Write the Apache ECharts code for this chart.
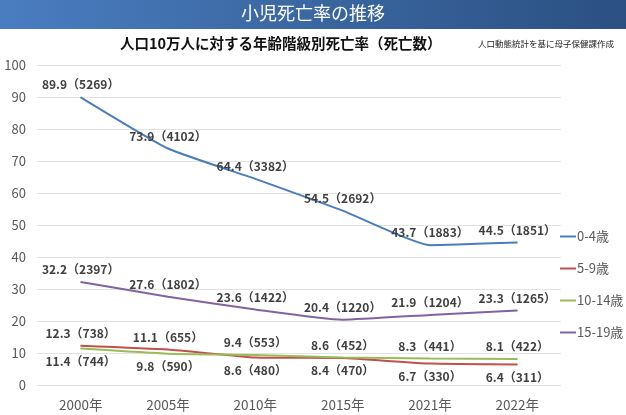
<!DOCTYPE html>
<html>
<head>
<meta charset="utf-8">
<script src="https://cdn.jsdelivr.net/npm/echarts@6/dist/echarts.min.js"></script>
<style>
  html, body { margin: 0; padding: 0; background: #fff; }
  #chart { width: 626px; height: 415px; }
</style>
</head>
<body>
<div id="chart"></div>
<script>
// 年次
const years = ['2000年', '2005年', '2010年', '2015年', '2021年', '2022年'];

// 死亡率（人口10万対）と死亡数
const rate0_4 = [89.9, 73.9, 64.4, 54.5, 43.7, 44.5];
const deaths0_4 = [5269, 4102, 3382, 2692, 1883, 1851];
const rate5_9 = [12.3, 11.1, 8.6, 8.4, 6.7, 6.4];
const deaths5_9 = [738, 655, 480, 470, 330, 311];
const rate10_14 = [11.4, 9.8, 9.4, 8.6, 8.3, 8.1];
const deaths10_14 = [744, 590, 553, 452, 441, 422];
const rate15_19 = [32.2, 27.6, 23.6, 20.4, 21.9, 23.3];
const deaths15_19 = [2397, 1802, 1422, 1220, 1204, 1265];

const yTicks = [0, 100, 10];

const font = '"Noto Sans CJK JP", "Noto Sans", sans-serif';

function makeSeries(name, rates, deaths, color, other) {
  return {
    name: name,
    type: 'line',
    smooth: 0.15,
    symbol: 'circle',
    symbolSize: 1,
    color: color,
    lineStyle: { width: 2, color: color },
    itemStyle: { color: color },
    data: rates.map(function (v, i) {
      let pos = 'top';
      if (other && v < other[i]) pos = 'bottom';
      return { value: v, label: { position: pos } };
    }),
    label: {
      show: true,
      distance: 6,
      fontFamily: font,
      fontSize: 12,
      fontWeight: 'bold',
      color: '#404040',
      formatter: function (p) {
        return rates[p.dataIndex].toFixed(1) + '（' + deaths[p.dataIndex] + '）';
      }
    }
  };
}

var dom = document.getElementById('chart');
var myChart = echarts.init(dom, null, { renderer: 'canvas' });

var option = {
  animation: false,
  textStyle: { fontFamily: font },
  graphic: [
    {
      type: 'rect',
      shape: { x: 0, y: 0, width: 626, height: 29 },
      style: {
        fill: new echarts.graphic.LinearGradient(0, 0, 1, 0, [
          { offset: 0, color: '#4a7dc0' },
          { offset: 1, color: '#2b5082' }
        ])
      }
    },
    {
      type: 'text',
      left: 'center',
      top: 4,
      style: { text: '小児死亡率の推移', fill: '#fff', fontSize: 18, fontFamily: font }
    },
    {
      type: 'text',
      left: 120,
      top: 36,
      style: { text: '人口10万人に対する年齢階級別死亡率（死亡数）', fill: '#111', fontSize: 14.5, fontWeight: 'bold', fontFamily: font }
    },
    {
      type: 'text',
      left: 478,
      top: 40,
      style: { text: '人口動態統計を基に母子保健課作成', fill: '#222', fontSize: 8.5, fontFamily: font }
    }
  ],
  legend: {
    orient: 'vertical',
    left: 555,
    top: 225,
    itemGap: 19,
    itemWidth: 16,
    itemHeight: 2,
    icon: 'rect',
    textStyle: { color: '#595959', fontSize: 13, fontFamily: font, padding: [0, 0, 0, -4] },
    data: ['0-4歳', '5-9歳', '10-14歳', '15-19歳']
  },
  grid: { left: 37, right: 65, top: 65, bottom: 30 },
  xAxis: {
    type: 'category',
    data: years,
    axisLine: { show: false },
    axisTick: { show: false },
    axisLabel: { color: '#595959', fontSize: 13.5, margin: 13 }
  },
  yAxis: {
    type: 'value',
    min: yTicks[0],
    max: yTicks[1],
    interval: yTicks[2],
    axisLabel: { color: '#595959', fontSize: 13, margin: 11 },
    splitLine: { lineStyle: { color: '#e3e3e3', width: 1 } }
  },
  series: [
    makeSeries('0-4歳', rate0_4, deaths0_4, '#4a7ebb', null),
    makeSeries('5-9歳', rate5_9, deaths5_9, '#c0504d', rate10_14),
    makeSeries('10-14歳', rate10_14, deaths10_14, '#9bbb59', rate5_9),
    makeSeries('15-19歳', rate15_19, deaths15_19, '#8064a2', null)
  ]
};

myChart.setOption(option);
window.addEventListener('resize', myChart.resize);
</script>
</body>
</html>
